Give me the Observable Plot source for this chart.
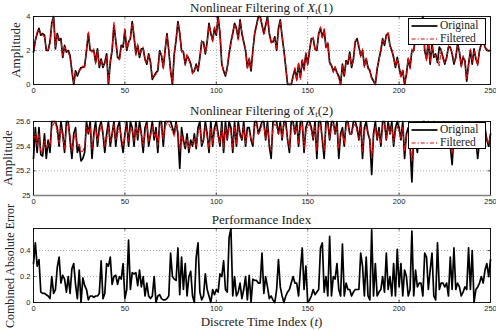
<!DOCTYPE html>
<html>
<head>
<meta charset="utf-8">
<script src="https://cdn.jsdelivr.net/npm/d3@7"></script>
<script src="https://cdn.jsdelivr.net/npm/@observablehq/plot@0.6"></script>
<style>
  html, body { margin: 0; padding: 0; background: #fff; }
  #root { position: relative; width: 496px; height: 331px; overflow: hidden; background: #fff; }
  .abs { position: absolute; }
  .serif { font-family: "Liberation Serif", "Times New Roman", serif; font-size: 13px; color: #222; white-space: nowrap; line-height: 1; }
  .title { transform: translate(-50%, -50%); }
  .ylab { transform: translate(-50%, -50%) rotate(-90deg); }
  .legend { background: #fff; border: 0.8px solid #000; box-sizing: border-box; font-size: 11.5px; }
  .legrow { display: flex; align-items: center; height: 13px; line-height: 13px; }
  .legrow svg { margin-right: 2px; }
  sub { font-size: 9px; vertical-align: -2px; line-height: 0; }
</style>
</head>
<body>
<div id="root"></div>
<script>
// ---------- data ----------
const timeIndex = d3.range(0, 251);
const xTicks = [0, 50, 100, 150, 200, 250];

const x1Original = [
 1.9,2.6,3.0,3.3,2.9,3.0,2.9,2.0,2.0,2.5,
 3.6,4.0,2.1,3.0,2.6,2.7,1.6,2.3,1.9,2.0,
 1.7,0.8,0.0,0.8,0.5,0.8,1.0,1.0,1.1,2.0,
 3.0,2.0,2.0,2.0,1.3,2.1,1.0,1.5,1.0,1.3,
 1.8,0.0,1.3,2.0,3.5,2.6,1.6,1.5,2.3,2.2,
 3.2,2.0,2.5,2.7,3.7,2.8,1.8,2.3,1.6,2.1,
 2.1,1.5,1.2,1.8,1.3,0.3,0.5,0.7,0.8,2.0,
 1.7,1.0,2.0,3.0,2.0,0.8,0.0,1.8,2.6,3.7,
 3.0,2.0,1.9,1.2,1.7,1.5,1.2,0.7,0.8,1.2,
 0.8,1.6,2.5,2.5,1.8,2.5,3.6,3.0,2.6,3.3,
 2.9,4.0,3.0,1.2,0.8,0.5,1.0,1.8,2.5,3.0,
 3.6,3.3,2.7,3.8,3.0,2.5,2.0,1.0,1.5,0.8,
 2.0,3.0,3.5,4.0,4.0,3.5,3.0,3.5,4.0,3.0,
 2.5,2.5,2.8,2.0,3.3,3.8,2.8,2.0,1.0,0.0,
 0.0,0.0,0.5,0.9,0.3,1.2,0.4,1.4,0.9,1.8,
 1.2,2.0,2.7,2.7,2.1,2.0,3.0,3.3,2.8,3.2,
 2.2,2.4,1.3,1.1,0.8,1.0,0.7,0.5,0.0,1.2,
 0.5,1.4,1.2,1.9,1.0,1.5,2.5,2.7,2.2,1.7,
 2.0,1.1,1.5,1.0,0.8,0.4,0.2,0.0,0.9,1.5,
 2.0,2.7,2.3,2.9,3.0,2.3,2.0,1.6,1.0,1.6,
 1.0,0.5,0.8,0.0,0.6,1.5,1.0,2.0,2.0,2.8,
 3.3,3.0,3.5,4.0,2.0,1.5,2.6,1.2,2.4,1.6,
 1.8,1.3,2.2,2.0,1.6,1.2,1.6,2.2,2.2,1.8,
 1.2,1.6,2.4,1.9,1.1,1.6,1.4,0.2,1.2,2.0,
 1.2,2.1,1.5,1.2,2.0,2.4,2.6,2.2,2.0,2.0,
 2.0
];
const x1Filtered = [
 2.0,2.5,3.1,3.2,3.0,2.9,2.8,2.1,2.0,2.4,
 3.5,3.9,2.2,2.9,2.7,2.6,1.7,2.2,2.0,1.9,
 1.6,0.9,0.1,0.7,0.6,0.8,0.9,1.1,1.0,2.1,
 3.1,2.1,1.9,2.1,1.2,2.0,1.1,1.4,1.1,1.2,
 1.7,0.1,1.4,2.1,3.7,2.5,1.7,1.4,2.2,2.3,
 3.3,2.1,2.4,2.8,3.6,2.9,1.7,2.4,1.7,2.0,
 2.2,1.4,1.3,1.7,1.4,0.4,0.5,0.6,0.9,1.9,
 1.8,0.9,2.1,2.9,2.1,0.7,0.1,1.7,2.7,3.6,
 3.1,1.9,2.0,1.1,1.8,1.4,1.3,0.6,0.9,1.1,
 0.9,1.5,2.6,2.4,1.9,2.4,3.5,3.1,2.5,3.4,
 3.0,3.9,3.1,1.3,0.7,0.6,0.9,1.9,2.4,3.1,
 3.5,3.4,2.6,3.7,3.1,2.4,2.1,0.9,1.6,0.9,
 1.9,3.1,3.4,3.9,3.9,3.6,2.9,3.4,3.9,3.1,
 2.4,2.6,2.7,2.1,3.2,3.7,2.9,1.9,1.1,0.1,
 0.0,0.1,0.4,1.0,0.2,1.3,0.3,1.5,0.8,1.9,
 1.1,2.1,2.6,2.8,2.0,2.1,2.9,3.4,2.7,3.3,
 2.1,2.5,1.2,1.2,0.7,1.1,0.6,0.4,0.0,1.1,
 0.6,1.3,1.3,1.8,1.1,1.4,2.6,2.6,2.3,1.6,
 2.1,1.0,1.6,0.9,0.9,0.3,0.3,0.0,1.0,1.4,
 2.1,2.6,2.4,2.8,3.1,2.2,2.1,1.5,1.1,1.5,
 1.1,0.4,0.9,0.1,0.5,1.6,0.9,2.1,1.9,2.9,
 3.2,3.1,3.4,3.9,2.1,1.4,2.5,1.3,2.3,1.7,
 1.7,1.4,1.1,2.1,1.5,1.3,1.5,2.3,2.1,1.9,
 1.3,1.5,2.3,2.0,1.0,1.7,1.3,0.3,1.1,2.1,
 1.3,2.0,1.6,1.1,2.1,2.3,2.7,2.1,2.1,1.9,
 2.1
];

const x2Original = [
 25.30,25.55,25.35,25.55,25.33,25.32,25.50,25.30,25.45,25.35,
 25.60,25.60,25.60,25.55,25.40,25.60,25.50,25.35,25.60,25.60,
 25.45,25.30,25.50,25.55,25.35,25.40,25.28,25.30,25.35,25.60,
 25.50,25.60,25.30,25.50,25.60,25.40,25.55,25.60,25.50,25.35,
 25.50,25.60,25.40,25.50,25.60,25.40,25.55,25.60,25.45,25.35,
 25.50,25.60,25.40,25.60,25.55,25.40,25.60,25.45,25.60,25.50,
 25.35,25.55,25.60,25.40,25.50,25.60,25.45,25.55,25.35,25.60,
 25.60,25.40,25.60,25.60,25.60,25.60,25.55,25.50,25.60,25.50,
 25.22,25.55,25.45,25.38,25.50,25.35,25.45,25.40,25.50,25.38,
 25.55,25.60,25.40,25.45,25.60,25.50,25.35,25.60,25.40,25.55,
 25.60,25.50,25.40,25.60,25.35,25.60,25.45,25.60,25.55,25.35,
 25.60,25.40,25.60,25.50,25.45,25.60,25.40,25.55,25.55,25.45,
 25.40,25.60,25.60,25.50,25.55,25.60,25.60,25.45,25.60,25.40,
 25.30,25.60,25.60,25.60,25.50,25.60,25.45,25.60,25.60,25.45,
 25.35,25.60,25.60,25.50,25.60,25.40,25.60,25.60,25.35,25.55,
 25.60,25.60,25.55,25.45,25.60,25.30,25.60,25.60,25.45,25.30,
 25.60,25.60,25.45,25.60,25.60,25.50,25.60,25.30,25.50,25.55,
 25.40,25.60,25.60,25.50,25.50,25.60,25.60,25.55,25.45,25.60,
 25.30,25.55,25.60,25.50,25.45,25.17,25.50,25.60,25.45,25.55,
 25.40,25.60,25.60,25.45,25.60,25.50,25.60,25.40,25.55,25.60,
 25.55,25.45,25.60,25.30,25.50,25.55,25.40,25.11,25.50,25.45,
 25.35,25.55,25.50,25.60,25.60,25.50,25.60,25.55,25.45,25.60,
 25.55,25.50,25.45,25.40,25.55,25.50,25.55,25.45,25.40,25.25,
 25.50,25.45,25.50,25.55,25.45,25.40,25.50,25.55,25.45,25.50,
 25.50,25.40,25.45,25.30,25.45,25.50,25.40,25.55,25.45,25.40,
 25.50
];
const x2Filtered = [
 25.45,25.50,25.40,25.50,25.36,25.35,25.45,25.38,25.42,25.40,
 25.55,25.58,25.60,25.50,25.42,25.55,25.48,25.38,25.55,25.58,
 25.48,25.36,25.45,25.52,25.40,25.42,25.35,25.36,25.40,25.55,
 25.52,25.56,25.38,25.48,25.55,25.44,25.50,25.58,25.52,25.40,
 25.46,25.56,25.44,25.48,25.58,25.45,25.50,25.56,25.48,25.40,
 25.48,25.56,25.44,25.55,25.52,25.44,25.56,25.48,25.55,25.50,
 25.40,25.50,25.58,25.44,25.48,25.56,25.48,25.52,25.40,25.55,
 25.58,25.45,25.55,25.60,25.58,25.55,25.52,25.48,25.58,25.52,
 25.36,25.50,25.42,25.40,25.46,25.38,25.42,25.42,25.46,25.40,
 25.50,25.56,25.42,25.46,25.56,25.48,25.38,25.55,25.42,25.52,
 25.56,25.48,25.42,25.56,25.38,25.55,25.46,25.56,25.52,25.38,
 25.56,25.42,25.56,25.48,25.46,25.56,25.42,25.52,25.52,25.46,
 25.42,25.56,25.58,25.50,25.52,25.58,25.56,25.46,25.56,25.42,
 25.36,25.55,25.58,25.56,25.50,25.56,25.46,25.58,25.56,25.46,
 25.38,25.56,25.58,25.50,25.56,25.42,25.55,25.58,25.38,25.52,
 25.56,25.58,25.52,25.46,25.56,25.36,25.55,25.58,25.46,25.36,
 25.55,25.58,25.46,25.56,25.58,25.50,25.56,25.38,25.48,25.52,
 25.42,25.56,25.58,25.50,25.50,25.56,25.58,25.52,25.46,25.56,
 25.36,25.52,25.56,25.50,25.46,25.30,25.48,25.56,25.46,25.52,
 25.42,25.56,25.58,25.46,25.56,25.50,25.56,25.42,25.52,25.56,
 25.52,25.46,25.56,25.36,25.48,25.52,25.42,25.28,25.48,25.46,
 25.38,25.52,25.50,25.56,25.58,25.50,25.56,25.52,25.46,25.56,
 25.52,25.50,25.46,25.42,25.52,25.50,25.52,25.46,25.42,25.34,
 25.48,25.46,25.50,25.52,25.46,25.42,25.48,25.52,25.46,25.50,
 25.50,25.42,25.46,25.36,25.46,25.48,25.42,25.52,25.46,25.42,
 25.48
];

const absError = [
 0.30,0.46,0.28,0.33,0.08,0.07,0.07,0.06,0.05,0.03,
 0.20,0.07,0.10,0.27,0.35,0.15,0.21,0.18,0.08,0.20,
 0.07,0.26,0.30,0.14,0.03,0.25,0.00,0.19,0.13,0.10,
 0.02,0.05,0.05,0.04,0.05,0.05,0.07,0.32,0.03,0.07,
 0.30,0.28,0.35,0.14,0.20,0.21,0.14,0.20,0.18,0.30,
 0.03,0.10,0.48,0.10,0.23,0.22,0.23,0.13,0.25,0.12,
 0.20,0.05,0.15,0.05,0.03,0.05,0.20,0.00,0.05,0.06,
 0.03,0.02,0.02,0.03,0.05,0.38,0.20,0.18,0.17,0.42,
 0.06,0.35,0.10,0.30,0.05,0.20,0.24,0.05,0.00,0.35,
 0.46,0.08,0.02,0.05,0.22,0.10,0.05,0.00,0.10,0.06,
 0.10,0.08,0.22,0.20,0.32,0.10,0.08,0.50,0.57,0.05,
 0.20,0.05,0.08,0.15,0.03,0.10,0.20,0.02,0.21,0.00,
 0.18,0.17,0.17,0.15,0.15,0.38,0.07,0.20,0.12,0.03,
 0.05,0.02,0.00,0.10,0.33,0.12,0.05,0.00,0.05,0.08,
 0.10,0.15,0.20,0.15,0.15,0.05,0.25,0.42,0.10,0.28,
 0.00,0.02,0.05,0.10,0.06,0.08,0.10,0.42,0.46,0.08,
 0.20,0.05,0.51,0.05,0.20,0.18,0.30,0.10,0.05,0.45,
 0.05,0.15,0.10,0.10,0.05,0.08,0.10,0.10,0.10,0.38,
 0.28,0.05,0.35,0.05,0.02,0.56,0.05,0.30,0.05,0.08,
 0.10,0.20,0.08,0.38,0.10,0.20,0.05,0.30,0.05,0.41,
 0.12,0.30,0.05,0.25,0.20,0.05,0.10,0.55,0.05,0.25,
 0.12,0.15,0.15,0.05,0.38,0.35,0.10,0.25,0.38,0.05,
 0.02,0.46,0.10,0.15,0.15,0.12,0.15,0.05,0.35,0.10,
 0.42,0.10,0.15,0.12,0.05,0.08,0.12,0.10,0.42,0.10,
 0.40,0.00,0.10,0.12,0.15,0.20,0.15,0.25,0.30,0.20,
 0.33
];

const titles = ["Nonlinear Filtering of <i>X</i><sub>t</sub>(1)", "Nonlinear Filtering of <i>X</i><sub>t</sub>(2)", "Performance Index"];
const yLabels = ["Amplitude", "Amplitude", "Combined Absolute Error"];
const xLabel = "Discrete Time Index (<i>t</i>)";
const legendLabels = ["Original", "Filtered"];

// ---------- layout ----------
const W = 496, ML = 33, MR = 6;
const root = document.getElementById("root");
const fmt = d => String(+d.toFixed(2));

function addDiv(html, cls, left, top, size) {
  const d = document.createElement("div");
  d.className = "abs serif " + cls;
  d.style.left = left + "px";
  d.style.top = top + "px";
  if (size) d.style.fontSize = size + "px";
  d.innerHTML = html;
  root.appendChild(d);
  return d;
}

function panel({top, height, mt, mb, yDomain, yTicks, yGrid, series, bottomGray}) {
  const rows = timeIndex.map((t, i) => {
    const r = {t};
    series.forEach((s, k) => r["s" + k] = s.values[i]);
    return r;
  });
  const fw = W - ML - MR, fh = height - mt - mb;
  const marks = [
    Plot.ruleX([50, 100, 150, 200], {stroke: "#9a9a9a", strokeDasharray: "1,2", strokeWidth: 0.8}),
    Plot.ruleY(yGrid, {stroke: "#9a9a9a", strokeDasharray: "1,2", strokeWidth: 0.8}),
  ];
  series.forEach((s, k) => {
    marks.push(Plot.line(rows, {x: "t", y: "s" + k, stroke: s.color, strokeWidth: s.width,
      strokeDasharray: s.dash, strokeLinejoin: "round"}));
  });
  marks.push(
    Plot.tickX(xTicks, {x: d => d, insetTop: fh - 2.5, stroke: "#000", strokeWidth: 0.7}),
    Plot.tickX(xTicks, {x: d => d, insetBottom: fh - 2.5, stroke: "#000", strokeWidth: 0.7}),
    Plot.tickY(yTicks, {y: d => d, insetRight: fw - 2.5, stroke: "#000", strokeWidth: 0.7}),
    Plot.tickY(yTicks, {y: d => d, insetLeft: fw - 2.5, stroke: "#000", strokeWidth: 0.7}),
    Plot.frame({stroke: "#000", strokeWidth: 0.9}),
    Plot.axisX({ticks: xTicks, tickSize: 0, tickPadding: 3, label: null, tickFormat: fmt}),
    Plot.axisY({ticks: yTicks, tickSize: 0, tickPadding: 3, label: null, tickFormat: fmt})
  );
  if (bottomGray) marks.push(Plot.frame({anchor: "bottom", stroke: "#808080", strokeWidth: 1.6}));
  const svg = Plot.plot({
    width: W, height, marginLeft: ML, marginRight: MR, marginTop: mt, marginBottom: mb,
    x: {domain: [0, 250]},
    y: {domain: yDomain},
    style: {fontFamily: "'Liberation Sans', Arial, sans-serif", fontSize: "7.5px", color: "#222", background: "transparent"},
    marks
  });
  svg.style.position = "absolute";
  svg.style.left = "0px";
  svg.style.top = top + "px";
  root.appendChild(svg);
}

const black = {color: "#000", width: 1.7, dash: null};
const red = {color: "#ff0000", width: 1.1, dash: "4,2,1.2,2"};

panel({top: 0, height: 98, mt: 16, mb: 14, yDomain: [0, 4], yTicks: [0, 2, 4], yGrid: [2],
  series: [{...black, values: x1Original}, {...red, values: x1Filtered}]});
panel({top: 105, height: 104, mt: 16, mb: 14, yDomain: [25, 25.6], yTicks: [25, 25.2, 25.4, 25.6], yGrid: [25.2, 25.4],
  series: [{...black, values: x2Original}, {...red, values: x2Filtered}], bottomGray: true});
panel({top: 205, height: 126, mt: 23, mb: 29, yDomain: [0, 0.57], yTicks: [0, 0.2, 0.4], yGrid: [0.2, 0.4],
  series: [{...black, values: absError}]});

// titles
const cx = ML + (W - ML - MR) / 2;
addDiv(titles[0], "title", cx, 7);
addDiv(titles[1], "title", cx, 110);
addDiv(titles[2], "title", cx, 219);
// y labels
addDiv(yLabels[0], "ylab", 15, 50);
addDiv(yLabels[1], "ylab", 7, 158);
addDiv(yLabels[2], "ylab", 10, 266, 12);
// x label
addDiv(xLabel, "title", cx, 321);

// legends
function legend(left, top) {
  const box = document.createElement("div");
  box.className = "abs legend serif";
  box.style.left = left + "px";
  box.style.top = top + "px";
  box.style.width = "78px";
  box.style.height = "27px";
  box.style.padding = "0 0 0 2px";
  const styles = [black, red];
  legendLabels.forEach((lab, k) => {
    const row = document.createElement("div");
    row.className = "legrow";
    const s = styles[k];
    row.innerHTML = `<svg width="27" height="6"><line x1="0.5" y1="3" x2="26.5" y2="3" stroke="${s.color}" stroke-width="${s.width}" ${s.dash ? `stroke-dasharray="${s.dash}"` : ""}/></svg><span>${lab}</span>`;
    box.appendChild(row);
  });
  root.appendChild(box);
}
legend(408, 18);
legend(408, 122);
</script>
</body>
</html>
